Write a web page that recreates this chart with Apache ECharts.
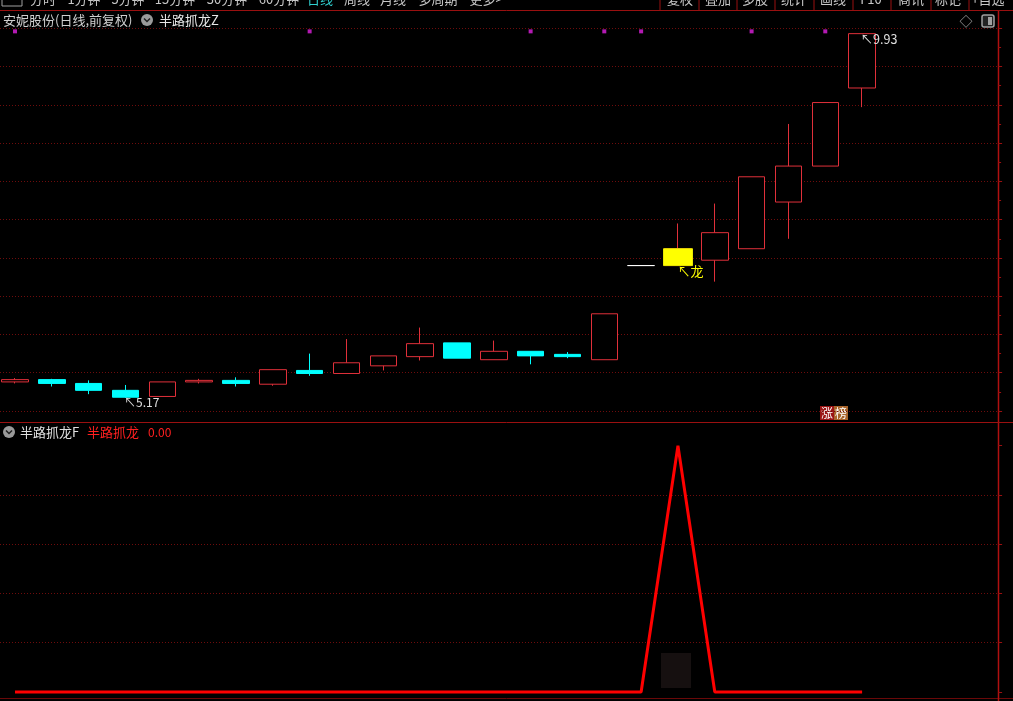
<!DOCTYPE html>
<html><head><meta charset="utf-8">
<script src="https://cdn.jsdelivr.net/npm/echarts@6/dist/echarts.min.js"></script>
<style>html,body{margin:0;padding:0;background:#000;}#c{width:1013px;height:701px;}</style>
</head><body><div id="c"></div>
<script>
// ---- data ----
const categories = ['D01','D02','D03','D04','D05','D06','D07','D08','D09','D10','D11','D12','D13','D14','D15','D16','D17','D18','D19','D20','D21','D22','D23','D24','','',''];
const opens  = [5.38,5.41,5.36,5.27,5.19,5.38,5.40,5.35,5.53,5.49,5.59,5.71,5.89,5.67,5.78,5.74,5.67,6.90,6.90,6.97,7.12,7.73,8.20,9.22];
const closes = [5.41,5.36,5.27,5.18,5.38,5.40,5.36,5.54,5.49,5.63,5.72,5.88,5.69,5.78,5.72,5.71,6.27,6.90,7.12,7.33,8.06,8.20,9.03,9.93];
const lows   = [5.36,5.32,5.22,5.17,5.19,5.36,5.32,5.33,5.46,5.49,5.53,5.66,5.69,5.67,5.61,5.69,5.67,6.90,6.90,6.69,7.12,7.25,8.20,8.97];
const highs  = [5.43,5.42,5.40,5.34,5.38,5.42,5.44,5.54,5.75,5.94,5.72,6.09,5.89,5.92,5.78,5.77,6.27,6.90,7.45,7.71,8.06,8.75,9.03,9.93];
const signalF = [0,0,0,0,0,0,0,0,0,0,0,0,0,0,0,0,0,0,1,0,0,0,0,0];   // 半路抓龙 indicator
const dotDays = [0,8,14,16,17,20,22];                                   // magenta marker days
const priceTicks = [5,5.5,6,6.5,7,7.5,8,8.5,9,9.5,10];
const signalTicks = [0.2,0.4,0.6,0.8];
const dragonDay = 18;
const flatDays = [17];

const RED = '#e0303a', CYAN = '#00ffff', GRID = '#6e0c0c', FRAME = '#9a1010';
const FONT = '"Noto Sans CJK SC","Noto Sans",sans-serif';

const kData = opens.map((o,i)=>{
  const item = {value:[o,closes[i],lows[i],highs[i]]};
  if (flatDays.includes(i)) item.itemStyle = {borderColor:'#ffffff',borderColor0:'#ffffff',color:'#ffffff',color0:'#ffffff'};
  return item;
});
const dragonData = opens.map((o,i)=> i===dragonDay ? [o,closes[i],Math.min(o,closes[i]),Math.max(o,closes[i])] : '-');

let minI = 0; lows.forEach((v,i)=>{ if(v<lows[minI]) minI=i; });
let maxI = 0; highs.forEach((v,i)=>{ if(v>highs[maxI]) maxI=i; });

const chart = echarts.init(document.getElementById('c'), null, {renderer:'canvas'});

const toolbarL = [['分时',43],['1分钟',84],['5分钟',128],['15分钟',175],['30分钟',227],['60分钟',279],['日线',320],['周线',357],['月线',393],['多周期',438],['更多>',486]];
const toolbarR = [['复权',680],['叠加',718],['多股',755],['统计',794],['画线',833],['F10',871],['商讯',911],['标记',948],['+自选',988]];
const sepX = [660,699,737,775,814,853,891,931,969];

const graphic = [];
toolbarL.forEach(([t,x])=>graphic.push({type:'text',x:x,y:-1,style:{text:t,fill:t==='日线'?'#30d0d0':'#c8c8c8',font:'13px '+FONT,textAlign:'center',textVerticalAlign:'middle'}}));
toolbarR.forEach(([t,x])=>graphic.push({type:'text',x:x,y:-1,style:{text:t,fill:'#c8c8c8',font:'13px '+FONT,textAlign:'center',textVerticalAlign:'middle'}}));
sepX.forEach(x=>graphic.push({type:'line',shape:{x1:x,y1:0,x2:x,y2:10},style:{stroke:FRAME,lineWidth:1}}));
graphic.push({type:'rect',shape:{x:2,y:-6,width:20,height:12},style:{fill:'none',stroke:'#a0a0a0',lineWidth:1}});
// frame lines
graphic.push({type:'line',shape:{x1:0,y1:10.5,x2:1013,y2:10.5},style:{stroke:FRAME,lineWidth:1}});
graphic.push({type:'line',shape:{x1:0,y1:422.5,x2:1013,y2:422.5},style:{stroke:FRAME,lineWidth:1}});
graphic.push({type:'line',shape:{x1:0,y1:698.5,x2:1013,y2:698.5},style:{stroke:'#6a0808',lineWidth:1}});
graphic.push({type:'line',shape:{x1:998.5,y1:10,x2:998.5,y2:701},style:{stroke:'#b01010',lineWidth:1.5}});
// headers
graphic.push({type:'text',x:3,y:20,style:{text:'安妮股份(日线,前复权)',fill:'#d0d0d0',font:'13px '+FONT,textVerticalAlign:'middle'}});
graphic.push({type:'circle',shape:{cx:147,cy:20,r:6},style:{fill:'#9a9a9a'}});
graphic.push({type:'polyline',shape:{points:[[144,18.5],[147,21.5],[150,18.5]]},style:{stroke:'#202020',lineWidth:1.5,fill:'none'}});
graphic.push({type:'text',x:159,y:20,style:{text:'半路抓龙Z',fill:'#e8e8e8',font:'13px '+FONT,textVerticalAlign:'middle'}});
graphic.push({type:'text',x:966,y:21,style:{text:'◇',fill:'#a0a0a0',font:'13px '+FONT,textAlign:'center',textVerticalAlign:'middle'}});
graphic.push({type:'rect',shape:{x:982,y:15,width:12,height:12,r:2},style:{fill:'#222',stroke:'#a0a0a0',lineWidth:1.5}});
graphic.push({type:'rect',shape:{x:988,y:17,width:4,height:8},style:{fill:'#a0a0a0'}});
graphic.push({type:'circle',shape:{cx:9,cy:432,r:6},style:{fill:'#9a9a9a'}});
graphic.push({type:'polyline',shape:{points:[[6,430.5],[9,433.5],[12,430.5]]},style:{stroke:'#202020',lineWidth:1.5,fill:'none'}});
graphic.push({type:'text',x:20,y:432,style:{text:'半路抓龙F',fill:'#e0e0e0',font:'13px '+FONT,textVerticalAlign:'middle'}});
graphic.push({type:'text',x:87,y:432,style:{text:'半路抓龙',fill:'#ff2020',font:'13px '+FONT,textVerticalAlign:'middle'}});
graphic.push({type:'text',x:148,y:432,style:{text:signalF[signalF.length-1].toFixed(2),fill:'#ff2020',font:'12px '+FONT,textVerticalAlign:'middle'}});
// 涨榜 badge
graphic.push({type:'text',x:820,y:413,style:{text:'涨',fill:'#ffffff',backgroundColor:'#9a1414',font:'12px '+FONT,textVerticalAlign:'middle',padding:[1,1]}});
graphic.push({type:'text',x:834,y:413,style:{text:'榜',fill:'#ffffff',backgroundColor:'#a8642a',font:'12px '+FONT,textVerticalAlign:'middle',padding:[1,1]}});
graphic.push({type:'rect',shape:{x:661,y:653,width:30,height:35},style:{fill:'#161010'}});

const gridLeft = 15, gridRight = 40.4, axisOffset = 25.5;
const gridLineStyle = {color:GRID,type:[1,2],width:1};

chart.setOption({
  backgroundColor:'#000',
  animation:false,
  graphic: graphic,
  grid:[
    {left:gridLeft,right:gridRight,top:10,bottom:701-411},
    {left:gridLeft,right:gridRight,top:422,bottom:701-692}
  ],
  xAxis:[
    {type:'category',gridIndex:0,data:categories,boundaryGap:false,axisLine:{show:false},axisTick:{show:false},axisLabel:{show:false},splitLine:{show:false}},
    {type:'category',gridIndex:1,data:categories,boundaryGap:false,axisLine:{show:false},axisTick:{show:false},axisLabel:{show:false},splitLine:{show:false}}
  ],
  yAxis:[
    {type:'value',gridIndex:0,position:'right',offset:axisOffset,min:5,max:10.239,interval:0.5,
     axisLine:{show:false},axisLabel:{show:false},
     axisTick:{show:true,inside:false,length:4,lineStyle:{color:FRAME}},
     minorTick:{show:true,splitNumber:2,length:3,lineStyle:{color:FRAME}},
     splitLine:{show:false}},
    {type:'value',gridIndex:1,position:'right',offset:axisOffset,min:0,max:1.0964,interval:0.2,
     axisLine:{show:false},axisLabel:{show:false},
     axisTick:{show:true,inside:false,length:4,lineStyle:{color:FRAME}},
     splitLine:{show:false}}
  ],
  series:[
    // gridline holders (drawn beneath everything)
    {type:'line',xAxisIndex:0,yAxisIndex:0,data:[],z:0,
     markLine:{silent:true,symbol:'none',label:{show:false},lineStyle:gridLineStyle,z:0,
       data:priceTicks.map(v=>[{x:0,yAxis:v},{x:998,yAxis:v}])}},
    {type:'line',xAxisIndex:1,yAxisIndex:1,data:[],z:0,
     markLine:{silent:true,symbol:'none',label:{show:false},lineStyle:gridLineStyle,z:0,
       data:signalTicks.map(v=>[{x:0,yAxis:v},{x:998,yAxis:v}])}},
    {type:'candlestick',xAxisIndex:0,yAxisIndex:0,barWidth:27,clip:false,data:kData,z:5,
     itemStyle:{color:'#000000',color0:CYAN,borderColor:RED,borderColor0:CYAN,borderWidth:1},
     markPoint:{symbol:'circle',symbolSize:1,itemStyle:{color:'rgba(0,0,0,0)'},z:8,
       data:[
         {coord:[minI,lows[minI]],label:{show:true,formatter:'↖'+lows[minI].toFixed(2),position:'right',distance:0,offset:[-2,4],color:'#e0e0e0',fontSize:12,fontFamily:FONT}},
         {coord:[maxI,highs[maxI]],label:{show:true,formatter:'↖'+highs[maxI].toFixed(2),position:'right',distance:0,offset:[-2,6],color:'#e0e0e0',fontSize:12.5,fontFamily:FONT}},
         {coord:[dragonDay,lows[dragonDay]],label:{show:true,formatter:'↖龙',position:'right',distance:0,offset:[-1,5],color:'#ffff00',fontSize:13,fontFamily:FONT}}
       ]}
    },
    {type:'candlestick',xAxisIndex:0,yAxisIndex:0,barWidth:29,clip:false,data:dragonData,z:6,
     itemStyle:{color:'#ffff00',color0:'#ffff00',borderColor:'#e8e800',borderColor0:'#e8e800',borderWidth:1}},
    {type:'scatter',xAxisIndex:0,yAxisIndex:0,symbol:'rect',symbolSize:4,clip:false,z:6,itemStyle:{color:'#e020e0'},
     data:dotDays.map(d=>[d,9.96])},
    {type:'line',xAxisIndex:1,yAxisIndex:1,data:signalF,showSymbol:false,symbol:'none',clip:false,z:5,
     lineStyle:{color:'#ff0000',width:3},itemStyle:{color:'#ff0000'}}
  ]
});
</script></body></html>
